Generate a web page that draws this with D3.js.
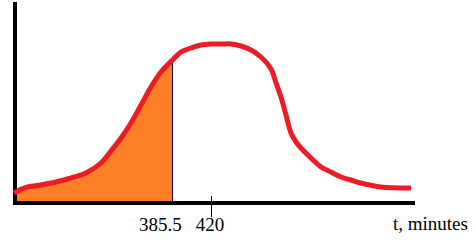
<!DOCTYPE html>
<html>
<head>
<meta charset="utf-8">
<script src="https://cdn.jsdelivr.net/npm/d3@7"></script>
<style>
  html, body { margin: 0; padding: 0; background: #fff; }
  svg { display: block; }
  text { font-family: "Liberation Serif", "Times New Roman", serif; font-size: 19px; fill: #000; }
</style>
</head>
<body>
<script>
/***** Data *****/
// time in minutes along the curve, and relative height of the curve
var times   = [243.5, 254.2, 267.7, 281.1, 294.5, 308.0, 321.4, 330.4, 339.4, 348.3, 357.3, 366.2, 375.2, 385.5,
               393.1, 402.1, 411.0, 420.0, 429.0, 437.9, 446.9, 455.8, 464.8, 473.8, 478.3, 482.7, 487.2, 491.7,
               496.2, 500.6, 509.6, 518.6, 527.5, 536.5, 545.5, 554.4, 572.3, 599.2];
var heights = [5, 7.75, 9, 10.5, 12.5, 15, 20, 26, 32.5, 40, 49, 58, 65.5, 71.5,
               75.5, 77.5, 79, 79.5, 79.5, 79.5, 78.5, 76.5, 73, 67, 60, 53, 44, 35,
               30.5, 27.5, 22.5, 18, 15.5, 13, 11.5, 10, 8, 7.5];
var cutoff = 385.5;
var tickValues = [385.5, 420];
var tickLabels = ["385.5", "420"];
var axisTitle = "t, minutes";

(function (d3) {
    "use strict";

    /***** Configuration *****/
    var width = 476, height = 241;
    var xScale = d3.scaleLinear().domain([244.4, 602.8]).range([15, 415]);
    var yScale = d3.scaleLinear().domain([0, 100]).range([203, 3]);

    var points = times.map(function (t, i) { return { t: t, h: heights[i] }; });
    var cutPoint = points.find(function (p) { return p.t === cutoff; });

    var svg = d3.select("body").append("svg")
        .attr("width", width)
        .attr("height", height);

    svg.append("defs").append("clipPath").attr("id", "left")
      .append("rect")
        .attr("x", 0).attr("y", 0)
        .attr("width", xScale(cutoff)).attr("height", height);

    /***** Shaded area *****/
    var area = d3.area()
        .x(function (d) { return xScale(d.t); })
        .y0(yScale(0))
        .y1(function (d) { return yScale(d.h); })
        .curve(d3.curveCatmullRom.alpha(0.5));

    svg.append("path")
        .datum(points)
        .attr("d", area)
        .attr("clip-path", "url(#left)")
        .attr("fill", "#ff7f27");

    /***** Axes *****/
    svg.append("line")
        .attr("x1", xScale.range()[0]).attr("x2", xScale.range()[0])
        .attr("y1", yScale(100) - 1).attr("y2", yScale(0) + 2)
        .attr("stroke", "#000").attr("stroke-width", 4);

    svg.append("line")
        .attr("x1", xScale.range()[0] - 2).attr("x2", xScale.range()[1])
        .attr("y1", yScale(0)).attr("y2", yScale(0))
        .attr("stroke", "#000").attr("stroke-width", 4);

    // cutoff line
    svg.append("line")
        .attr("x1", Math.round(xScale(cutoff)) + 0.5).attr("x2", Math.round(xScale(cutoff)) + 0.5)
        .attr("y1", yScale(cutPoint.h)).attr("y2", yScale(0))
        .attr("stroke", "#000").attr("stroke-width", 1);

    // tick at 420
    svg.append("line")
        .attr("x1", Math.round(xScale(tickValues[1])) + 0.5).attr("x2", Math.round(xScale(tickValues[1])) + 0.5)
        .attr("y1", yScale(0) - 7).attr("y2", yScale(0) + 14)
        .attr("stroke", "#000").attr("stroke-width", 1);

    svg.selectAll("text.tick")
        .data(tickValues)
      .enter().append("text")
        .attr("class", "tick")
        .attr("x", function (d, i) { return xScale(d) + (i === 0 ? -12 : -1); })
        .attr("y", 231)
        .attr("text-anchor", "middle")
        .text(function (d, i) { return tickLabels[i]; });

    svg.append("text")
        .attr("x", 393)
        .attr("y", 230)
        .text(axisTitle);

    /***** Curve *****/
    var line = d3.line()
        .x(function (d) { return xScale(d.t); })
        .y(function (d) { return yScale(d.h); })
        .curve(d3.curveCatmullRom.alpha(0.5));

    svg.append("path")
        .datum(points)
        .attr("d", line)
        .attr("fill", "none")
        .attr("stroke", "#ed1c24")
        .attr("stroke-width", 5)
        .attr("stroke-linejoin", "round");

})(d3);
</script>
</body>
</html>
